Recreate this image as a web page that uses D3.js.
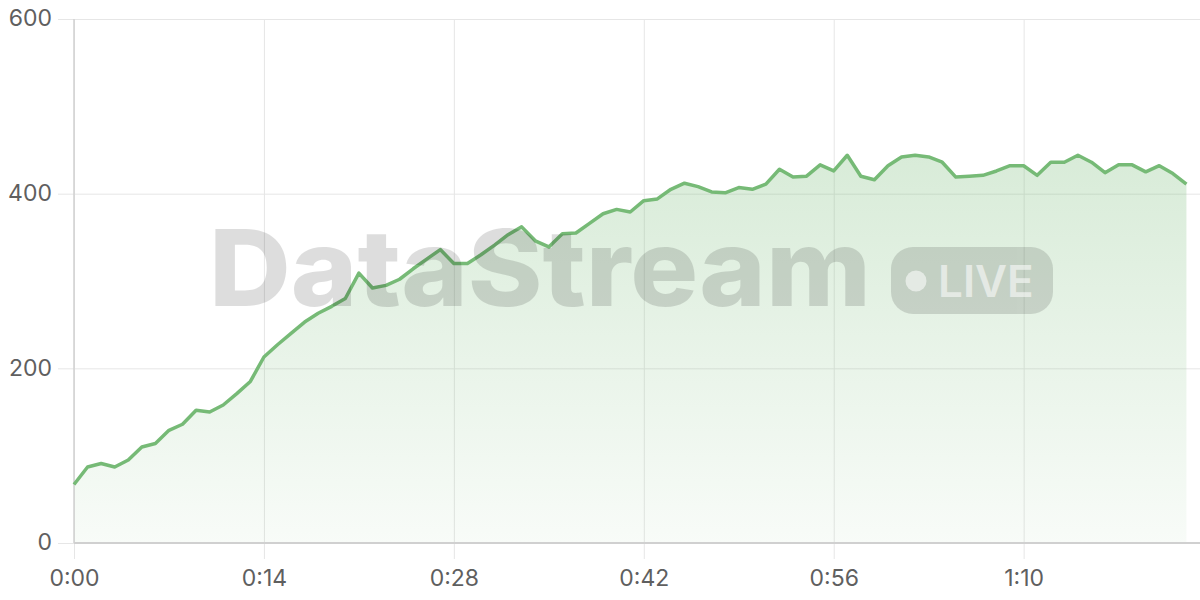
<!DOCTYPE html>
<meta charset="utf-8">
<style>
body { margin: 0; background: #fff; }
svg { display: block; }
</style>
<svg width="1200" height="600"></svg>
<script src="https://d3js.org/d3.v7.min.js"></script>
<script>

// one sample per second, 0:00 .. 1:22
var seconds = d3.range(0, 83);
var values = [
  67, 87, 91, 87, 95, 110, 114, 129, 136, 152,
  150, 158, 171, 185, 213, 227, 240, 253, 263, 271,
  280, 309, 292, 295, 302, 314, 325, 336, 320, 320,
  330, 341, 353, 362, 346, 339, 354, 355, 366, 377,
  382, 379, 392, 394, 405, 412, 408, 402, 401, 407,
  405, 411, 428, 419, 420, 433, 426, 444, 420, 416,
  432, 442, 444, 442, 436, 419, 420, 421, 426, 432,
  432, 421, 436, 436, 444, 436, 424, 433, 433, 425,
  432, 423, 411
];
var xTicks = [0, 14, 28, 42, 56, 70];
var yTicks = [0, 200, 400, 600];

var data = seconds.map(function(s, i) { return {t: s, v: values[i]}; });

var svg = d3.select("svg"),
    margin = {top: 19, right: 0, bottom: 57, left: 74},
    width = +svg.attr("width") - margin.left - margin.right,
    height = +svg.attr("height") - margin.top - margin.bottom;

var x = d3.scaleLinear().domain([0, 83]).range([0, width]);
var y = d3.scaleLinear().domain([0, 600]).range([height, 0]);

function fmt(s) { return Math.floor(s / 60) + ":" + d3.format("02")(s % 60); }

var defs = svg.append("defs");
var grad = defs.append("linearGradient")
    .attr("id", "fillGrad")
    .attr("x1", 0).attr("y1", 0).attr("x2", 0).attr("y2", 1);
grad.append("stop").attr("offset", "0%").attr("stop-color", "#74b974").attr("stop-opacity", 0.28);
grad.append("stop").attr("offset", "100%").attr("stop-color", "#74b974").attr("stop-opacity", 0.05);

var g = svg.append("g")
    .attr("transform", "translate(" + margin.left + "," + margin.top + ")");

function styleText(a) {
  a.selectAll(".tick text")
      .style("font-family", "Inter, 'Open Sans', sans-serif")
      .style("font-size", "23px")
      .style("fill", "#5f5f5f");
}

// grid
g.append("g")
    .attr("transform", "translate(0," + height + ")")
    .call(d3.axisBottom(x).tickValues(xTicks).tickFormat(fmt).tickSize(0).tickPadding(27))
    .call(function(a) {
      a.select(".domain").remove();
      a.selectAll(".tick line").attr("stroke", "#e6e6e6").attr("y1", 16).attr("y2", -height);
      styleText(a);
    });

g.append("g")
    .call(d3.axisLeft(y).tickValues(yTicks).tickSize(0).tickPadding(22))
    .call(function(a) {
      a.select(".domain").remove();
      a.selectAll(".tick line").attr("stroke", "#e6e6e6").attr("x1", -16).attr("x2", width);
      a.selectAll(".tick text").attr("dy", "0.3em");
      styleText(a);
    });

// area
g.append("path")
    .datum(data)
    .attr("fill", "url(#fillGrad)")
    .attr("d", d3.area()
      .x(function(d) { return x(d.t); })
      .y0(y(0))
      .y1(function(d) { return y(d.v); }));

// axis lines
g.append("line")
    .attr("x1", 0).attr("x2", 0).attr("y1", 0).attr("y2", height)
    .attr("stroke", "#d0d0d0").attr("stroke-width", 1.5);
g.append("line")
    .attr("x1", 0).attr("x2", width).attr("y1", height).attr("y2", height)
    .attr("stroke", "#d0d0d0").attr("stroke-width", 2);

// watermark
var wm = svg.append("g").attr("opacity", 0.13);
wm.append("text")
    .attr("x", 209).attr("y", 306)
    .attr("textLength", 662).attr("lengthAdjust", "spacingAndGlyphs")
    .style("font-family", "Inter, sans-serif")
    .style("font-weight", 800)
    .style("font-size", "106px")
    .attr("fill", "#000")
    .text("DataStream");
wm.append("rect")
    .attr("x", 891).attr("y", 247).attr("width", 162).attr("height", 67).attr("rx", 22)
    .attr("fill", "#000");
svg.append("circle")
    .attr("cx", 916).attr("cy", 281).attr("r", 10.5)
    .attr("fill", "#fff").attr("opacity", 0.55);
svg.append("text")
    .attr("x", 938).attr("y", 297)
    .style("font-family", "Inter, sans-serif")
    .style("font-weight", 600)
    .style("font-size", "44px")
    .attr("fill", "#fff").attr("opacity", 0.55)
    .text("LIVE");

// line
g.append("path")
    .datum(data)
    .attr("fill", "none")
    .attr("stroke", "#76ba76")
    .attr("stroke-width", 3.5)
    .attr("stroke-linejoin", "round")
    .attr("d", d3.line()
      .x(function(d) { return x(d.t); })
      .y(function(d) { return y(d.v); }));

</script>
